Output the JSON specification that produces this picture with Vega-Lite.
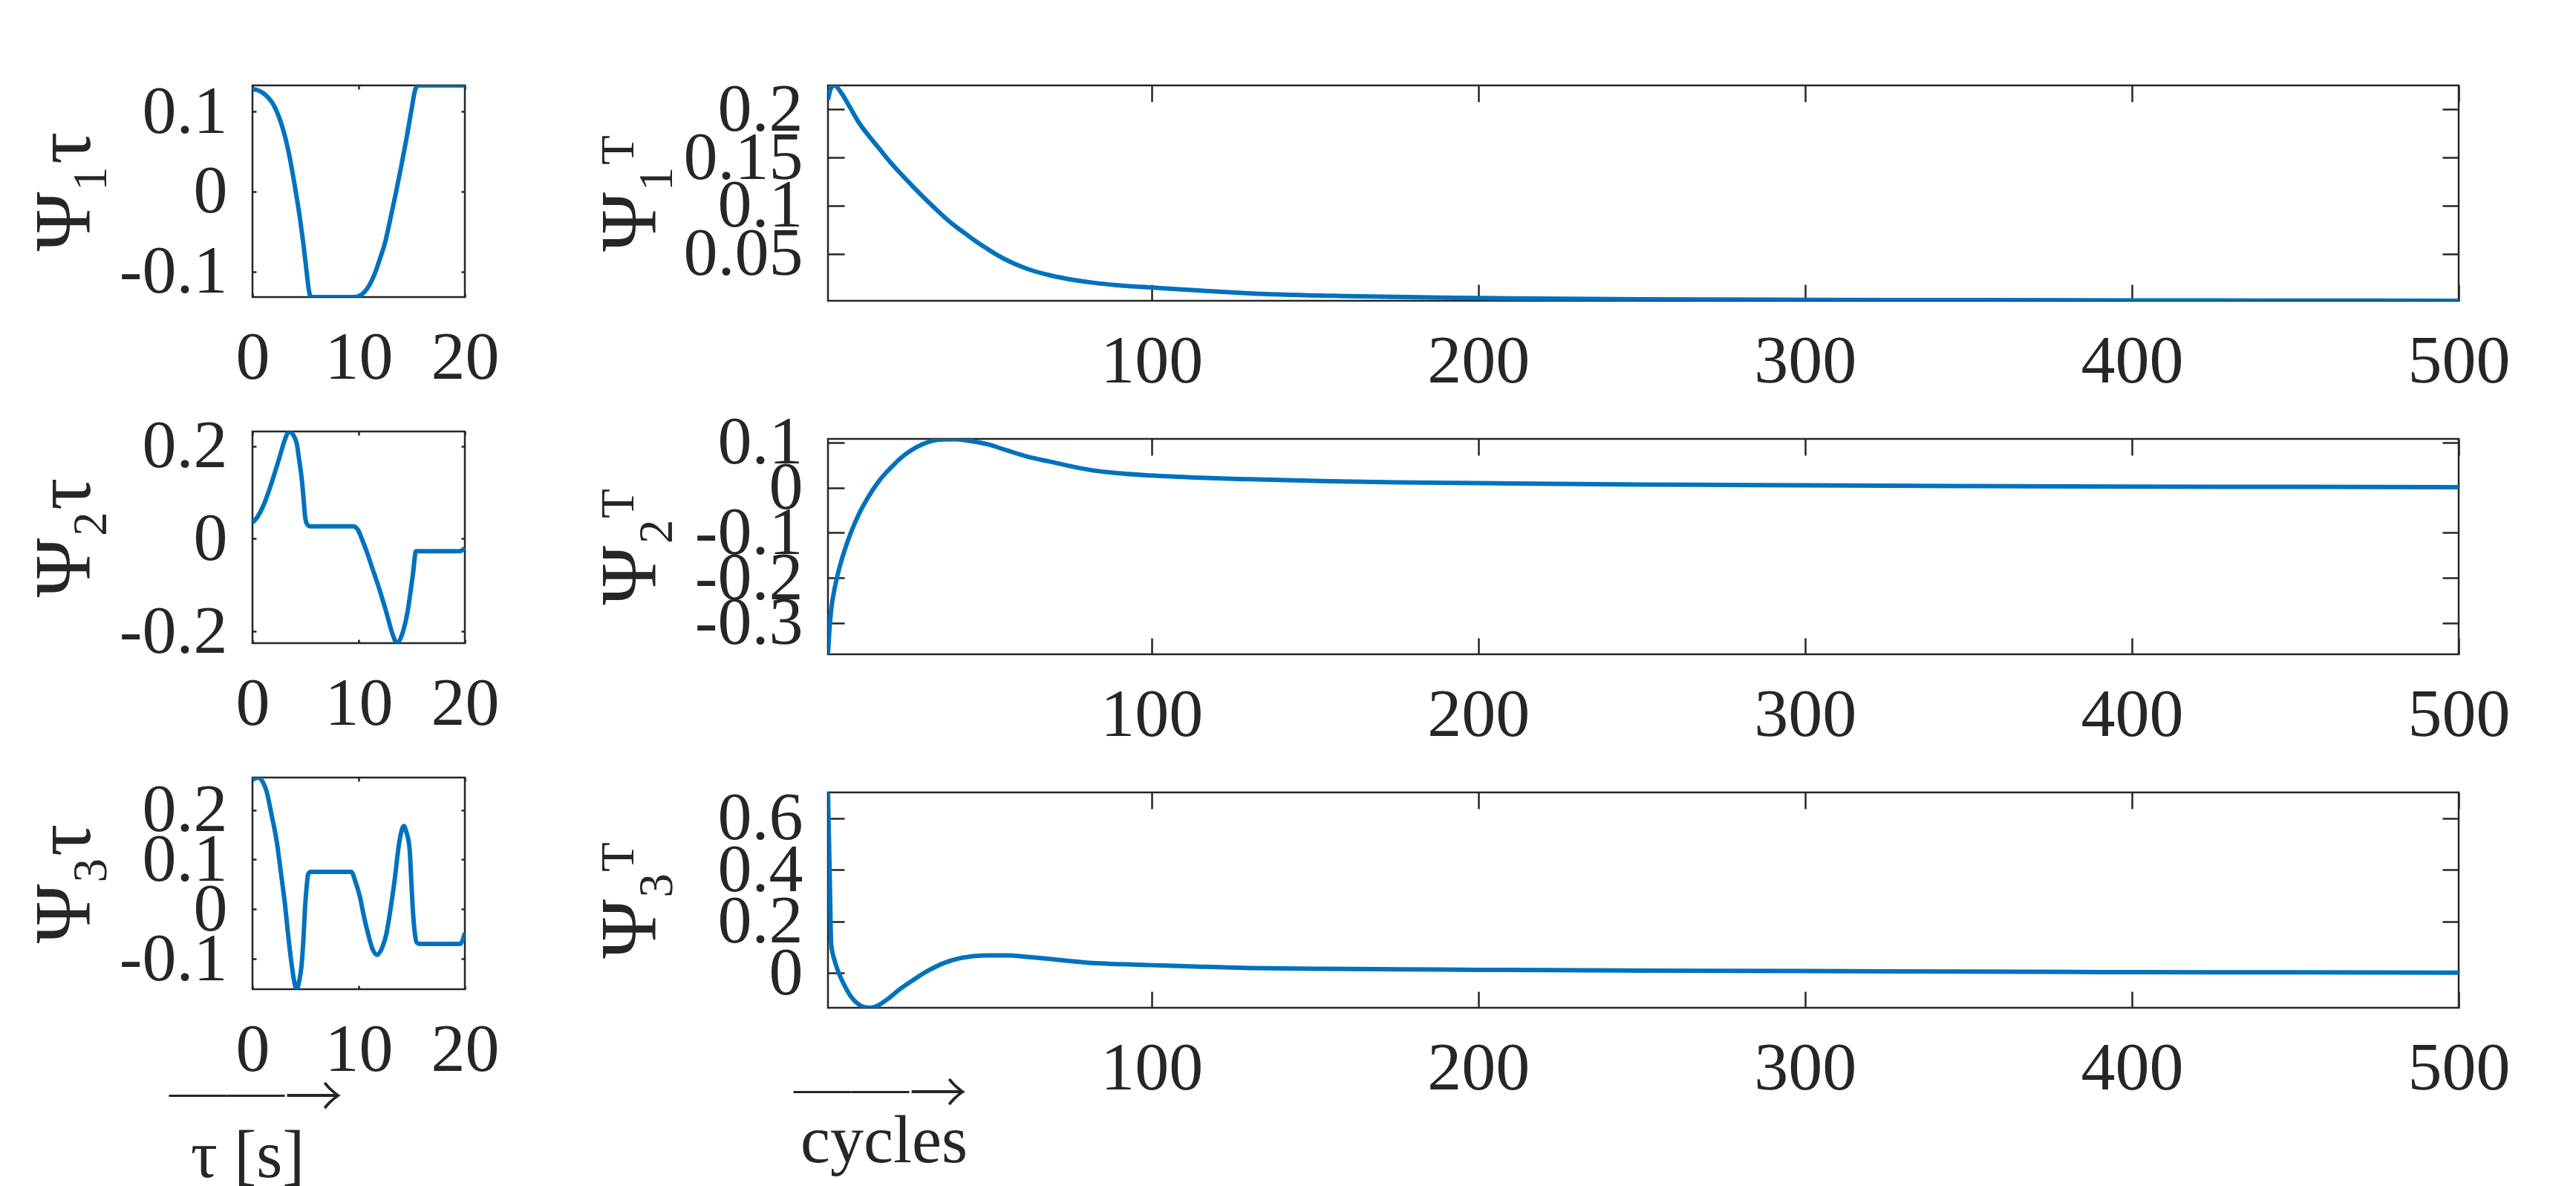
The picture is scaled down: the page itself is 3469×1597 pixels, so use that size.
{
 "$schema": "https://vega.github.io/schema/vega-lite/v6.json",
 "background": "white",
 "padding": {"left": 32, "top": 100, "right": 10, "bottom": 0},
 "config": {
  "view": {"stroke": "#262626", "strokeWidth": 2.5},
  "axis": {"domain": false, "grid": false, "labelFont": "Liberation Serif", "labelFontSize": 92, "labelColor": "#262626", "titleFont": "Liberation Serif", "titleFontWeight": "normal", "titleColor": "#262626", "tickColor": "#262626", "tickWidth": 2.5, "labelOverlap": false, "labelFlush": false, "labelBound": false},
  "line": {"color": "#0072BD", "strokeWidth": 6}
 },
 "datasets": {
  "l1": [{"t":0,"v":0.128},{"t":0.5,"v":0.1265},{"t":1,"v":0.123},{"t":1.5,"v":0.117},{"t":2,"v":0.108},{"t":2.5,"v":0.093},{"t":3,"v":0.072},{"t":3.5,"v":0.043},{"t":4,"v":0.006},{"t":4.5,"v":-0.036},{"t":4.8,"v":-0.066},{"t":5.1,"v":-0.1},{"t":5.3,"v":-0.122},{"t":5.5,"v":-0.1316},{"t":9.5,"v":-0.1316},{"t":10,"v":-0.1305},{"t":10.5,"v":-0.126},{"t":11,"v":-0.117},{"t":11.5,"v":-0.103},{"t":12,"v":-0.084},{"t":12.5,"v":-0.063},{"t":13,"v":-0.033},{"t":13.5,"v":-0.002},{"t":14,"v":0.031},{"t":14.5,"v":0.066},{"t":15,"v":0.104},{"t":15.3,"v":0.126},{"t":15.6,"v":0.1325},{"t":20,"v":0.1325}],
  "l2": [{"t":0,"v":0.035},{"t":0.5,"v":0.048},{"t":1,"v":0.07},{"t":1.5,"v":0.1},{"t":2,"v":0.135},{"t":2.5,"v":0.172},{"t":3,"v":0.21},{"t":3.3,"v":0.227},{"t":3.55,"v":0.2313},{"t":3.8,"v":0.225},{"t":4.16,"v":0.206},{"t":4.4,"v":0.17},{"t":4.6,"v":0.137},{"t":4.8,"v":0.09},{"t":4.94,"v":0.051},{"t":5.1,"v":0.033},{"t":5.4,"v":0.027},{"t":9.5,"v":0.027},{"t":9.94,"v":0.019},{"t":10.3,"v":0.0},{"t":10.7,"v":-0.024},{"t":11.34,"v":-0.067},{"t":11.97,"v":-0.11},{"t":12.6,"v":-0.158},{"t":13.2,"v":-0.206},{"t":13.6,"v":-0.2249},{"t":14.16,"v":-0.201},{"t":14.6,"v":-0.158},{"t":14.85,"v":-0.12},{"t":15.1,"v":-0.078},{"t":15.4,"v":-0.027},{"t":19.5,"v":-0.027},{"t":19.8,"v":-0.024},{"t":20,"v":-0.02}],
  "l3": [{"t":0,"v":0.261},{"t":0.56,"v":0.2653},{"t":1,"v":0.255},{"t":1.34,"v":0.2365},{"t":1.8,"v":0.19},{"t":2.28,"v":0.137},{"t":2.7,"v":0.07},{"t":3.06,"v":0.01},{"t":3.4,"v":-0.06},{"t":3.69,"v":-0.1116},{"t":3.95,"v":-0.148},{"t":4.16,"v":-0.1613},{"t":4.4,"v":-0.145},{"t":4.63,"v":-0.1116},{"t":4.8,"v":-0.06},{"t":4.94,"v":-0.001},{"t":5.1,"v":0.045},{"t":5.25,"v":0.0707},{"t":5.47,"v":0.0752},{"t":9.31,"v":0.0752},{"t":9.7,"v":0.055},{"t":10.1,"v":0.0266},{"t":10.5,"v":-0.015},{"t":10.9,"v":-0.0507},{"t":11.3,"v":-0.08},{"t":11.75,"v":-0.0922},{"t":12.2,"v":-0.078},{"t":12.6,"v":-0.0507},{"t":13,"v":0.0},{"t":13.36,"v":0.054},{"t":13.84,"v":0.137},{"t":14.25,"v":0.1675},{"t":14.5,"v":0.155},{"t":14.8,"v":0.1206},{"t":14.95,"v":0.06},{"t":15.1,"v":-0.001},{"t":15.3,"v":-0.05},{"t":15.47,"v":-0.0674},{"t":15.7,"v":-0.07},{"t":19.56,"v":-0.07},{"t":19.8,"v":-0.062},{"t":20,"v":-0.048}],
  "r1": [{"t":1,"v":0.21},{"t":2,"v":0.2225},{"t":3,"v":0.2249},{"t":5,"v":0.2175},{"t":7.5,"v":0.2035},{"t":10.3,"v":0.1871},{"t":13.5,"v":0.1725},{"t":16.8,"v":0.1588},{"t":20,"v":0.1455},{"t":23.3,"v":0.1331},{"t":26.6,"v":0.1213},{"t":29.9,"v":0.1099},{"t":33.2,"v":0.099},{"t":36.4,"v":0.0888},{"t":39.6,"v":0.0796},{"t":42.9,"v":0.0713},{"t":46.1,"v":0.0633},{"t":49.4,"v":0.0559},{"t":52.6,"v":0.0491},{"t":55.9,"v":0.043},{"t":59.2,"v":0.038},{"t":62.5,"v":0.0338},{"t":69,"v":0.0276},{"t":75.5,"v":0.0232},{"t":82,"v":0.02},{"t":90,"v":0.0172},{"t":100,"v":0.015},{"t":115,"v":0.0118},{"t":130,"v":0.009},{"t":160,"v":0.006},{"t":200,"v":0.004},{"t":250,"v":0.0028},{"t":300,"v":0.0022},{"t":350,"v":0.0019},{"t":400,"v":0.0016},{"t":450,"v":0.0014},{"t":500,"v":0.0012}],
  "r2": [{"t":1,"v":-0.3697},{"t":1.5,"v":-0.31},{"t":2,"v":-0.27},{"t":3,"v":-0.225},{"t":3.8,"v":-0.198},{"t":5,"v":-0.165},{"t":6.4,"v":-0.1325},{"t":8,"v":-0.1},{"t":10.3,"v":-0.061},{"t":13,"v":-0.025},{"t":16.8,"v":0.0165},{"t":20,"v":0.0425},{"t":23.3,"v":0.0659},{"t":26.5,"v":0.083},{"t":29.9,"v":0.0961},{"t":33,"v":0.104},{"t":36.4,"v":0.1071},{"t":40,"v":0.1075},{"t":42.9,"v":0.1054},{"t":50,"v":0.096},{"t":55.9,"v":0.0824},{"t":62,"v":0.069},{"t":69,"v":0.0577},{"t":75,"v":0.048},{"t":82,"v":0.0384},{"t":90,"v":0.032},{"t":100,"v":0.0269},{"t":115,"v":0.022},{"t":130,"v":0.0186},{"t":150,"v":0.015},{"t":175,"v":0.012},{"t":200,"v":0.01},{"t":250,"v":0.007},{"t":300,"v":0.005},{"t":350,"v":0.0035},{"t":400,"v":0.0025},{"t":450,"v":0.0018},{"t":500,"v":0.0012}],
  "r3": [{"t":1,"v":0.7},{"t":1.5,"v":0.4},{"t":2,"v":0.11},{"t":3,"v":0.05},{"t":3.8,"v":0.018},{"t":5,"v":-0.02},{"t":6.4,"v":-0.056},{"t":8,"v":-0.09},{"t":10.3,"v":-0.12},{"t":12,"v":-0.131},{"t":14,"v":-0.134},{"t":16,"v":-0.127},{"t":19.4,"v":-0.099},{"t":23,"v":-0.062},{"t":27.3,"v":-0.0245},{"t":32,"v":0.012},{"t":36.4,"v":0.039},{"t":41,"v":0.057},{"t":45.5,"v":0.0658},{"t":50,"v":0.069},{"t":55.9,"v":0.069},{"t":62,"v":0.063},{"t":69,"v":0.055},{"t":75,"v":0.047},{"t":82,"v":0.039},{"t":90,"v":0.035},{"t":100,"v":0.031},{"t":115,"v":0.025},{"t":130,"v":0.02},{"t":150,"v":0.017},{"t":175,"v":0.015},{"t":200,"v":0.013},{"t":250,"v":0.01},{"t":300,"v":0.008},{"t":350,"v":0.006},{"t":400,"v":0.004},{"t":450,"v":0.003},{"t":500,"v":0.002}]
 },
 "hconcat": [
  {"vconcat": [
   {"width": 286, "height": 285, "data": {"name": "l1"},
    "layer": [
     {"mark": {"type": "line", "interpolate": "monotone", "clip": true},
      "encoding": {
       "x": {"field": "t", "type": "quantitative", "scale": {"domain": [0, 20], "nice": false, "zero": false},
        "axis": {"orient": "bottom", "values": [0, 10, 20], "format": "d", "tickSize": -5, "labelPadding": 41, "title": null}},
       "y": {"field": "v", "type": "quantitative", "scale": {"domain": [-0.1316, 0.1325], "nice": false, "zero": false},
        "axis": {"orient": "left", "values": [-0.1, 0, 0.1], "format": ".2~f", "labelExpr": "replace(datum.label, '−', '-')", "tickSize": -5, "labelPadding": 39,
         "title": "Ψ₁τ", "titleFontSize": 108, "titleX": -220, "titleY": 142.5, "titleAlign": "center", "titleBaseline": "alphabetic", "titleAngle": 270}}}},
     {"mark": {"type": "line", "strokeOpacity": 0},
      "encoding": {
       "x": {"field": "t", "type": "quantitative", "axis": {"orient": "top", "values": [0, 10, 20], "labels": false, "tickSize": -5, "title": null}},
       "y": {"field": "v", "type": "quantitative", "axis": {"orient": "right", "values": [-0.1, 0, 0.1], "labels": false, "tickSize": -5, "title": null}}}}
    ],
    "resolve": {"axis": {"x": "independent", "y": "independent"}}},
   {"width": 286, "height": 285, "data": {"name": "l2"},
    "layer": [
     {"mark": {"type": "line", "interpolate": "monotone", "clip": true},
      "encoding": {
       "x": {"field": "t", "type": "quantitative", "scale": {"domain": [0, 20], "nice": false, "zero": false},
        "axis": {"orient": "bottom", "values": [0, 10, 20], "format": "d", "tickSize": -5, "labelPadding": 41, "title": null}},
       "y": {"field": "v", "type": "quantitative", "scale": {"domain": [-0.2249, 0.2313], "nice": false, "zero": false},
        "axis": {"orient": "left", "values": [-0.2, 0, 0.2], "format": ".2~f", "labelExpr": "replace(datum.label, '−', '-')", "tickSize": -5, "labelPadding": 39,
         "title": "Ψ₂τ", "titleFontSize": 108, "titleX": -220, "titleY": 142.5, "titleAlign": "center", "titleBaseline": "alphabetic", "titleAngle": 270}}}},
     {"mark": {"type": "line", "strokeOpacity": 0},
      "encoding": {
       "x": {"field": "t", "type": "quantitative", "axis": {"orient": "top", "values": [0, 10, 20], "labels": false, "tickSize": -5, "title": null}},
       "y": {"field": "v", "type": "quantitative", "axis": {"orient": "right", "values": [-0.2, 0, 0.2], "labels": false, "tickSize": -5, "title": null}}}}
    ],
    "resolve": {"axis": {"x": "independent", "y": "independent"}}},
   {"width": 286, "height": 285, "data": {"name": "l3"},
    "layer": [
     {"mark": {"type": "line", "interpolate": "monotone", "clip": true},
      "encoding": {
       "x": {"field": "t", "type": "quantitative", "scale": {"domain": [0, 20], "nice": false, "zero": false},
        "axis": {"orient": "bottom", "values": [0, 10, 20], "format": "d", "tickSize": -5, "labelPadding": 41,
         "title": "τ  [s]", "titleFontSize": 90, "titleAlign": "center", "titleBaseline": "alphabetic", "titleX": -7, "titleY": 252, "titleAngle": 0}},
       "y": {"field": "v", "type": "quantitative", "scale": {"domain": [-0.1613, 0.2653], "nice": false, "zero": false},
        "axis": {"orient": "left", "values": [-0.1, 0, 0.1, 0.2], "format": ".2~f", "labelExpr": "replace(datum.label, '−', '-')", "tickSize": -5, "labelPadding": 39,
         "title": "Ψ₃τ", "titleFontSize": 108, "titleX": -220, "titleY": 142.5, "titleAlign": "center", "titleBaseline": "alphabetic", "titleAngle": 270}}}},
     {"mark": {"type": "line", "strokeOpacity": 0},
      "encoding": {
       "x": {"field": "t", "type": "quantitative", "axis": {"orient": "top", "values": [0, 10, 20], "labels": false, "tickSize": -5,
        "title": "──→", "titleFont": "Noto Sans CJK SC", "titleFontWeight": 300, "titleFontSize": 78, "titleAlign": "center", "titleBaseline": "alphabetic", "titleX": 4, "titleY": 457, "titleAngle": 0}},
       "y": {"field": "v", "type": "quantitative", "axis": {"orient": "right", "values": [-0.1, 0, 0.1, 0.2], "labels": false, "tickSize": -5, "title": null}}}}
    ],
    "resolve": {"axis": {"x": "independent", "y": "independent"}}}
  ], "spacing": 181, "bounds": "flush"},
  {"vconcat": [
   {"width": 2196, "height": 290, "data": {"name": "r1"},
    "layer": [
     {"mark": {"type": "line", "interpolate": "monotone", "clip": true},
      "encoding": {
       "x": {"field": "t", "type": "quantitative", "scale": {"domain": [1, 500], "nice": false, "zero": false},
        "axis": {"orient": "bottom", "values": [100, 200, 300, 400, 500], "format": "d", "tickSize": -22, "labelPadding": 58, "title": null}},
       "y": {"field": "v", "type": "quantitative", "scale": {"domain": [0.0012, 0.2249], "nice": false, "zero": false},
        "axis": {"orient": "left", "values": [0.05, 0.1, 0.15, 0.2], "format": ".2~f", "tickSize": -22, "labelPadding": 56,
         "title": "Ψ₁ᵀ", "titleFontSize": 108, "titleX": -233, "titleY": 145, "titleAlign": "center", "titleBaseline": "alphabetic", "titleAngle": 270}}}},
     {"mark": {"type": "line", "strokeOpacity": 0},
      "encoding": {
       "x": {"field": "t", "type": "quantitative", "axis": {"orient": "top", "values": [100, 200, 300, 400, 500], "labels": false, "tickSize": -22, "title": null}},
       "y": {"field": "v", "type": "quantitative", "axis": {"orient": "right", "values": [0.05, 0.1, 0.15, 0.2], "labels": false, "tickSize": -22, "title": null}}}}
    ],
    "resolve": {"axis": {"x": "independent", "y": "independent"}}},
   {"width": 2196, "height": 290, "data": {"name": "r2"},
    "layer": [
     {"mark": {"type": "line", "interpolate": "monotone", "clip": true},
      "encoding": {
       "x": {"field": "t", "type": "quantitative", "scale": {"domain": [1, 500], "nice": false, "zero": false},
        "axis": {"orient": "bottom", "values": [100, 200, 300, 400, 500], "format": "d", "tickSize": -22, "labelPadding": 58, "title": null}},
       "y": {"field": "v", "type": "quantitative", "scale": {"domain": [-0.3697, 0.1082], "nice": false, "zero": false},
        "axis": {"orient": "left", "values": [-0.3, -0.2, -0.1, 0, 0.1], "format": ".2~f", "labelExpr": "replace(datum.label, '−', '-')", "tickSize": -22, "labelPadding": 56,
         "title": "Ψ₂ᵀ", "titleFontSize": 108, "titleX": -233, "titleY": 145, "titleAlign": "center", "titleBaseline": "alphabetic", "titleAngle": 270}}}},
     {"mark": {"type": "line", "strokeOpacity": 0},
      "encoding": {
       "x": {"field": "t", "type": "quantitative", "axis": {"orient": "top", "values": [100, 200, 300, 400, 500], "labels": false, "tickSize": -22, "title": null}},
       "y": {"field": "v", "type": "quantitative", "axis": {"orient": "right", "values": [-0.3, -0.2, -0.1, 0, 0.1], "labels": false, "tickSize": -22, "title": null}}}}
    ],
    "resolve": {"axis": {"x": "independent", "y": "independent"}}},
   {"width": 2196, "height": 290, "data": {"name": "r3"},
    "layer": [
     {"mark": {"type": "line", "interpolate": "monotone", "clip": true},
      "encoding": {
       "x": {"field": "t", "type": "quantitative", "scale": {"domain": [1, 500], "nice": false, "zero": false},
        "axis": {"orient": "bottom", "values": [100, 200, 300, 400, 500], "format": "d", "tickSize": -22, "labelPadding": 58,
         "title": "cycles", "titleFontSize": 90, "titleAlign": "center", "titleBaseline": "alphabetic", "titleX": 75, "titleY": 207, "titleAngle": 0}},
       "y": {"field": "v", "type": "quantitative", "scale": {"domain": [-0.134, 0.7], "nice": false, "zero": false},
        "axis": {"orient": "left", "values": [0, 0.2, 0.4, 0.6], "format": ".2~f", "tickSize": -22, "labelPadding": 56,
         "title": "Ψ₃ᵀ", "titleFontSize": 108, "titleX": -233, "titleY": 145, "titleAlign": "center", "titleBaseline": "alphabetic", "titleAngle": 270}}}},
     {"mark": {"type": "line", "strokeOpacity": 0},
      "encoding": {
       "x": {"field": "t", "type": "quantitative", "axis": {"orient": "top", "values": [100, 200, 300, 400, 500], "labels": false, "tickSize": -22,
        "title": "──→", "titleFont": "Noto Sans CJK SC", "titleFontWeight": 300, "titleFontSize": 78, "titleAlign": "center", "titleBaseline": "alphabetic", "titleX": 70, "titleY": 432, "titleAngle": 0}},
       "y": {"field": "v", "type": "quantitative", "axis": {"orient": "right", "values": [0, 0.2, 0.4, 0.6], "labels": false, "tickSize": -22, "title": null}}}}
    ],
    "resolve": {"axis": {"x": "independent", "y": "independent"}}}
  ], "spacing": 186, "bounds": "flush"}
 ],
 "spacing": 775,
 "bounds": "flush"
}
